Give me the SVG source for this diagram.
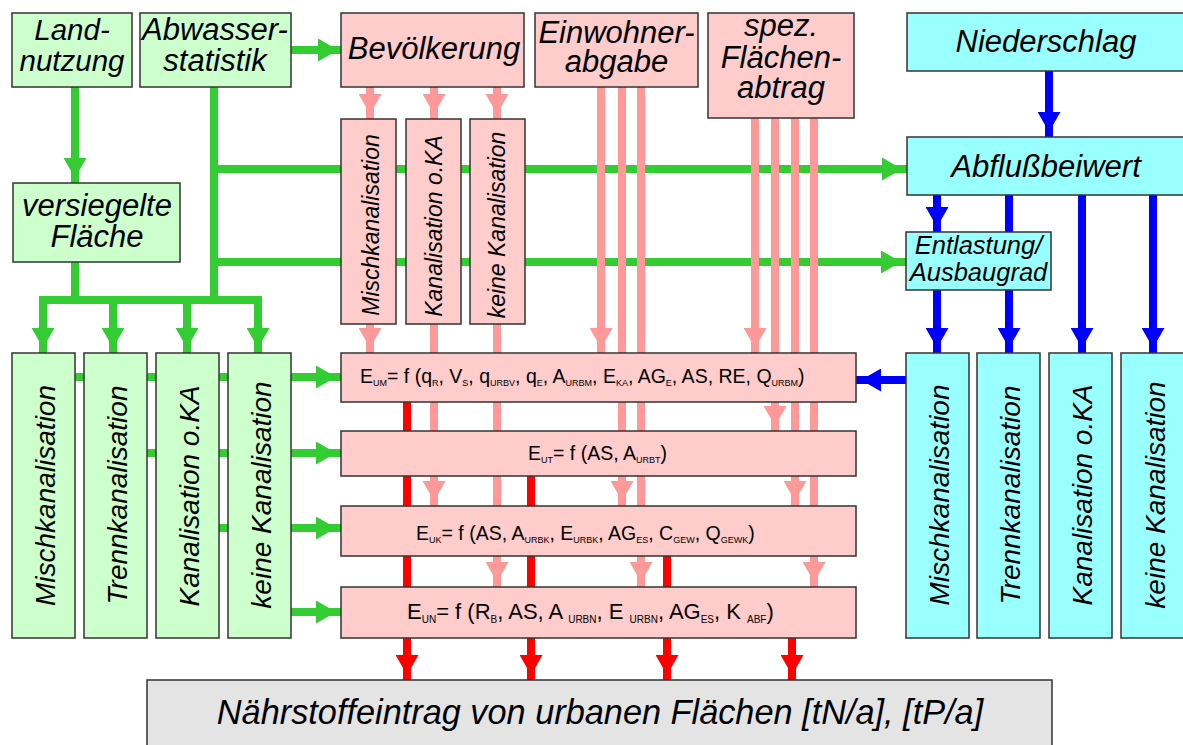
<svg xmlns="http://www.w3.org/2000/svg" width="1183" height="745" viewBox="0 0 1183 745">
<style>
.bx{stroke:#333;stroke-width:1.5}
.g{fill:#ccffcc}.p{fill:#ffcccc}.c{fill:#99ffff}.gr{fill:#e4e4e4}
.t{font-family:"Liberation Sans",Arial,sans-serif;font-style:italic;fill:#000;text-anchor:middle}
.f{font-family:"Liberation Sans",Arial,sans-serif;font-size:19.5px;fill:#000}
.s{font-size:9px}
.f2{font-size:22px}
.s2{font-size:10px}
.lg{stroke:#33cc33;stroke-width:8;fill:none}
.lp{stroke:#ff9999;stroke-width:8;fill:none}
.lr{stroke:#ff0000;stroke-width:8;fill:none}
.lb{stroke:#0000ff;stroke-width:8;fill:none}
</style>
<defs>
<marker id="ag" viewBox="0 0 26 23" refX="25" refY="11.5" markerWidth="26" markerHeight="23" markerUnits="userSpaceOnUse" orient="auto"><path d="M0,0 L20,11.5 L0,23 z" fill="#33cc33"/></marker>
<marker id="ap" viewBox="0 0 26 23" refX="25" refY="11.5" markerWidth="26" markerHeight="23" markerUnits="userSpaceOnUse" orient="auto"><path d="M0,0 L20,11.5 L0,23 z" fill="#ff9999"/></marker>
<marker id="ar" viewBox="0 0 26 23" refX="25" refY="11.5" markerWidth="26" markerHeight="23" markerUnits="userSpaceOnUse" orient="auto"><path d="M0,0 L20,11.5 L0,23 z" fill="#ff0000"/></marker>
<marker id="ab" viewBox="0 0 26 23" refX="25" refY="11.5" markerWidth="26" markerHeight="23" markerUnits="userSpaceOnUse" orient="auto"><path d="M0,0 L20,11.5 L0,23 z" fill="#0000ff"/></marker>
</defs>
<rect width="1183" height="745" fill="#fff"/>
<g id="connectors">
<line class="lg" x1="291" y1="50" x2="343" y2="50" marker-end="url(#ag)"/>
<line class="lg" x1="75" y1="87" x2="75" y2="183" marker-end="url(#ag)"/>
<line class="lg" x1="75" y1="262" x2="75" y2="300"/>
<line class="lg" x1="214" y1="87" x2="214" y2="304"/>
<line class="lg" x1="210" y1="169" x2="907" y2="169" marker-end="url(#ag)"/>
<line class="lg" x1="210" y1="262" x2="906" y2="262" marker-end="url(#ag)"/>
<line class="lg" x1="39" y1="300" x2="262" y2="300"/>
<line class="lg" x1="43" y1="296" x2="43" y2="353" marker-end="url(#ag)"/>
<line class="lg" x1="113" y1="296" x2="113" y2="353" marker-end="url(#ag)"/>
<line class="lg" x1="187" y1="296" x2="187" y2="353" marker-end="url(#ag)"/>
<line class="lg" x1="258" y1="296" x2="258" y2="353" marker-end="url(#ag)"/>
<line class="lg" x1="60" y1="377" x2="341" y2="377" marker-end="url(#ag)"/>
<line class="lg" x1="130" y1="453" x2="341" y2="453" marker-end="url(#ag)"/>
<line class="lg" x1="200" y1="528" x2="341" y2="528" marker-end="url(#ag)"/>
<line class="lg" x1="280" y1="612" x2="341" y2="612" marker-end="url(#ag)"/>
<line class="lp" x1="370" y1="87" x2="370" y2="119" marker-end="url(#ap)"/>
<line class="lp" x1="434" y1="87" x2="434" y2="119" marker-end="url(#ap)"/>
<line class="lp" x1="497" y1="87" x2="497" y2="119" marker-end="url(#ap)"/>
<line class="lp" x1="370" y1="324" x2="370" y2="353" marker-end="url(#ap)"/>
<line class="lp" x1="434" y1="324" x2="434" y2="506" marker-end="url(#ap)"/>
<line class="lp" x1="497" y1="324" x2="497" y2="587" marker-end="url(#ap)"/>
<line class="lp" x1="601" y1="87" x2="601" y2="353" marker-end="url(#ap)"/>
<line class="lp" x1="622" y1="87" x2="622" y2="506" marker-end="url(#ap)"/>
<line class="lp" x1="641" y1="87" x2="641" y2="587" marker-end="url(#ap)"/>
<line class="lp" x1="755" y1="118" x2="755" y2="353" marker-end="url(#ap)"/>
<line class="lp" x1="775" y1="118" x2="775" y2="431" marker-end="url(#ap)"/>
<line class="lp" x1="795" y1="118" x2="795" y2="506" marker-end="url(#ap)"/>
<line class="lp" x1="814" y1="118" x2="814" y2="587" marker-end="url(#ap)"/>
<line class="lr" x1="407" y1="395" x2="407" y2="680" marker-end="url(#ar)"/>
<line class="lr" x1="531" y1="470" x2="531" y2="680" marker-end="url(#ar)"/>
<line class="lr" x1="667" y1="550" x2="667" y2="680" marker-end="url(#ar)"/>
<line class="lr" x1="792" y1="632" x2="792" y2="680" marker-end="url(#ar)"/>
<line class="lb" x1="1049" y1="71" x2="1049" y2="137" marker-end="url(#ab)"/>
<line class="lb" x1="937" y1="195" x2="937" y2="232" marker-end="url(#ab)"/>
<line class="lb" x1="937" y1="290" x2="937" y2="353" marker-end="url(#ab)"/>
<line class="lb" x1="1009" y1="195" x2="1009" y2="353" marker-end="url(#ab)"/>
<line class="lb" x1="1082" y1="195" x2="1082" y2="353" marker-end="url(#ab)"/>
<line class="lb" x1="1153" y1="195" x2="1153" y2="353" marker-end="url(#ab)"/>
<line class="lb" x1="906" y1="380" x2="856" y2="380" marker-end="url(#ab)"/>
</g>
<g id="landnutzung"><rect class="bx g" x="12" y="13" width="120" height="74"/><text class="t" font-size="29.5" x="72" y="40">Land-<tspan x="72" dy="31">nutzung</tspan></text></g>
<g id="abwasserstatistik"><rect class="bx g" x="140" y="13" width="151" height="74"/><text class="t" font-size="31" x="215" y="40">Abwasser-<tspan x="215" dy="31">statistik</tspan></text></g>
<g id="bevoelkerung"><rect class="bx p" x="341" y="13" width="183" height="74"/><text class="t" font-size="31" x="434" y="59">Bevölkerung</text></g>
<g id="einwohnerabgabe"><rect class="bx p" x="535" y="13" width="163" height="74"/><text class="t" font-size="31" x="616.5" y="43">Einwohner-<tspan x="616.5" dy="29">abgabe</tspan></text></g>
<g id="flaechenabtrag"><rect class="bx p" x="708" y="13" width="146" height="105"/><text class="t" font-size="31" x="781" y="36">spez.<tspan x="781" dy="32">Flächen-</tspan><tspan x="781" dy="30">abtrag</tspan></text></g>
<g id="niederschlag"><rect class="bx c" x="907" y="13" width="278" height="58"/><text class="t" font-size="31" x="1046" y="52">Niederschlag</text></g>
<g id="abflussbeiwert"><rect class="bx c" x="907" y="137" width="278" height="58"/><text class="t" font-size="31" x="1046" y="177">Abflußbeiwert</text></g>
<g id="versiegelte-flaeche"><rect class="bx g" x="13" y="183" width="167" height="79"/><text class="t" font-size="31" x="97" y="216">versiegelte<tspan x="97" dy="31">Fläche</tspan></text></g>
<g id="entlastung"><rect class="bx c" x="906" y="232" width="145" height="58"/><text class="t" font-size="25.5" x="978.5" y="254">Entlastung/<tspan x="978.5" dy="27">Ausbaugrad</tspan></text></g>
<g id="p-misch"><rect class="bx p" x="341" y="119" width="55" height="205"/><text class="t" font-size="23" transform="translate(379,225) rotate(-90)">Mischkanalisation</text></g>
<g id="p-kaoka"><rect class="bx p" x="406" y="119" width="55" height="205"/><text class="t" font-size="23" transform="translate(442,226) rotate(-90)">Kanalisation o.KA</text></g>
<g id="p-keine"><rect class="bx p" x="470" y="119" width="55" height="205"/><text class="t" font-size="23" transform="translate(505,225) rotate(-90)">keine Kanalisation</text></g>
<g id="g-misch"><rect class="bx g" x="12" y="353" width="63" height="285"/><text class="t" font-size="28" transform="translate(55,495.5) rotate(-90)">Mischkanalisation</text></g>
<g id="g-trenn"><rect class="bx g" x="84" y="353" width="63" height="285"/><text class="t" font-size="28" transform="translate(127,495) rotate(-90)">Trennkanalisation</text></g>
<g id="g-kaoka"><rect class="bx g" x="156" y="353" width="63" height="285"/><text class="t" font-size="28" transform="translate(199,496) rotate(-90)">Kanalisation o.KA</text></g>
<g id="g-keine"><rect class="bx g" x="228" y="353" width="63" height="285"/><text class="t" font-size="28" transform="translate(271,495) rotate(-90)">keine Kanalisation</text></g>
<g id="c-misch"><rect class="bx c" x="906" y="353" width="63" height="285"/><text class="t" font-size="28" transform="translate(949,495) rotate(-90)">Mischkanalisation</text></g>
<g id="c-trenn"><rect class="bx c" x="977" y="353" width="63" height="285"/><text class="t" font-size="28" transform="translate(1020,495) rotate(-90)">Trennkanalisation</text></g>
<g id="c-kaoka"><rect class="bx c" x="1049" y="353" width="63" height="285"/><text class="t" font-size="28" transform="translate(1092,495) rotate(-90)">Kanalisation o.KA</text></g>
<g id="c-keine"><rect class="bx c" x="1121" y="353" width="64" height="285"/><text class="t" font-size="28" transform="translate(1165,495) rotate(-90)">keine Kanalisation</text></g>
<g id="e-um"><rect class="bx p" x="341" y="353" width="515" height="49"/><text class="f" x="360" y="383">E<tspan class="s" dy="3">UM</tspan><tspan dy="-3">= f (q</tspan><tspan class="s" dy="3">R</tspan><tspan dy="-3">, V</tspan><tspan class="s" dy="3">S</tspan><tspan dy="-3">, q</tspan><tspan class="s" dy="3">URBV</tspan><tspan dy="-3">, q</tspan><tspan class="s" dy="3">E</tspan><tspan dy="-3">, A</tspan><tspan class="s" dy="3">URBM</tspan><tspan dy="-3">, E</tspan><tspan class="s" dy="3">KA</tspan><tspan dy="-3">, AG</tspan><tspan class="s" dy="3">E</tspan><tspan dy="-3">, AS, RE, Q</tspan><tspan class="s" dy="3">URBM</tspan><tspan dy="-3">)</tspan></text></g>
<g id="e-ut"><rect class="bx p" x="341" y="431" width="515" height="45"/><text class="f" x="528" y="460">E<tspan class="s" dy="3">UT</tspan><tspan dy="-3">= f (AS, A</tspan><tspan class="s" dy="3">URBT</tspan><tspan dy="-3">)</tspan></text></g>
<g id="e-uk"><rect class="bx p" x="341" y="506" width="515" height="50"/><text class="f" x="416" y="540">E<tspan class="s" dy="3">UK</tspan><tspan dy="-3">= f (AS, A</tspan><tspan class="s" dy="3">URBK</tspan><tspan dy="-3">, E</tspan><tspan class="s" dy="3">URBK</tspan><tspan dy="-3">, AG</tspan><tspan class="s" dy="3">ES</tspan><tspan dy="-3">, C</tspan><tspan class="s" dy="3">GEW</tspan><tspan dy="-3">, Q</tspan><tspan class="s" dy="3">GEWK</tspan><tspan dy="-3">)</tspan></text></g>
<g id="e-un"><rect class="bx p" x="341" y="587" width="515" height="51"/><text class="f f2" x="407" y="619">E<tspan class="s2" dy="3.5">UN</tspan><tspan dy="-3.5">= f (R</tspan><tspan class="s2" dy="3.5">B</tspan><tspan dy="-3.5">, AS, A </tspan><tspan class="s2" dy="3.5">URBN</tspan><tspan dy="-3.5">, E </tspan><tspan class="s2" dy="3.5">URBN</tspan><tspan dy="-3.5">, AG</tspan><tspan class="s2" dy="3.5">ES</tspan><tspan dy="-3.5">, K </tspan><tspan class="s2" dy="3.5">ABF</tspan><tspan dy="-3.5">)</tspan></text></g>
<g id="naehrstoffeintrag"><rect class="bx gr" x="147" y="680" width="905" height="70"/><text class="t" font-size="34.3" x="600" y="724">Nährstoffeintrag von urbanen Flächen [tN/a], [tP/a]</text></g>
</svg>
